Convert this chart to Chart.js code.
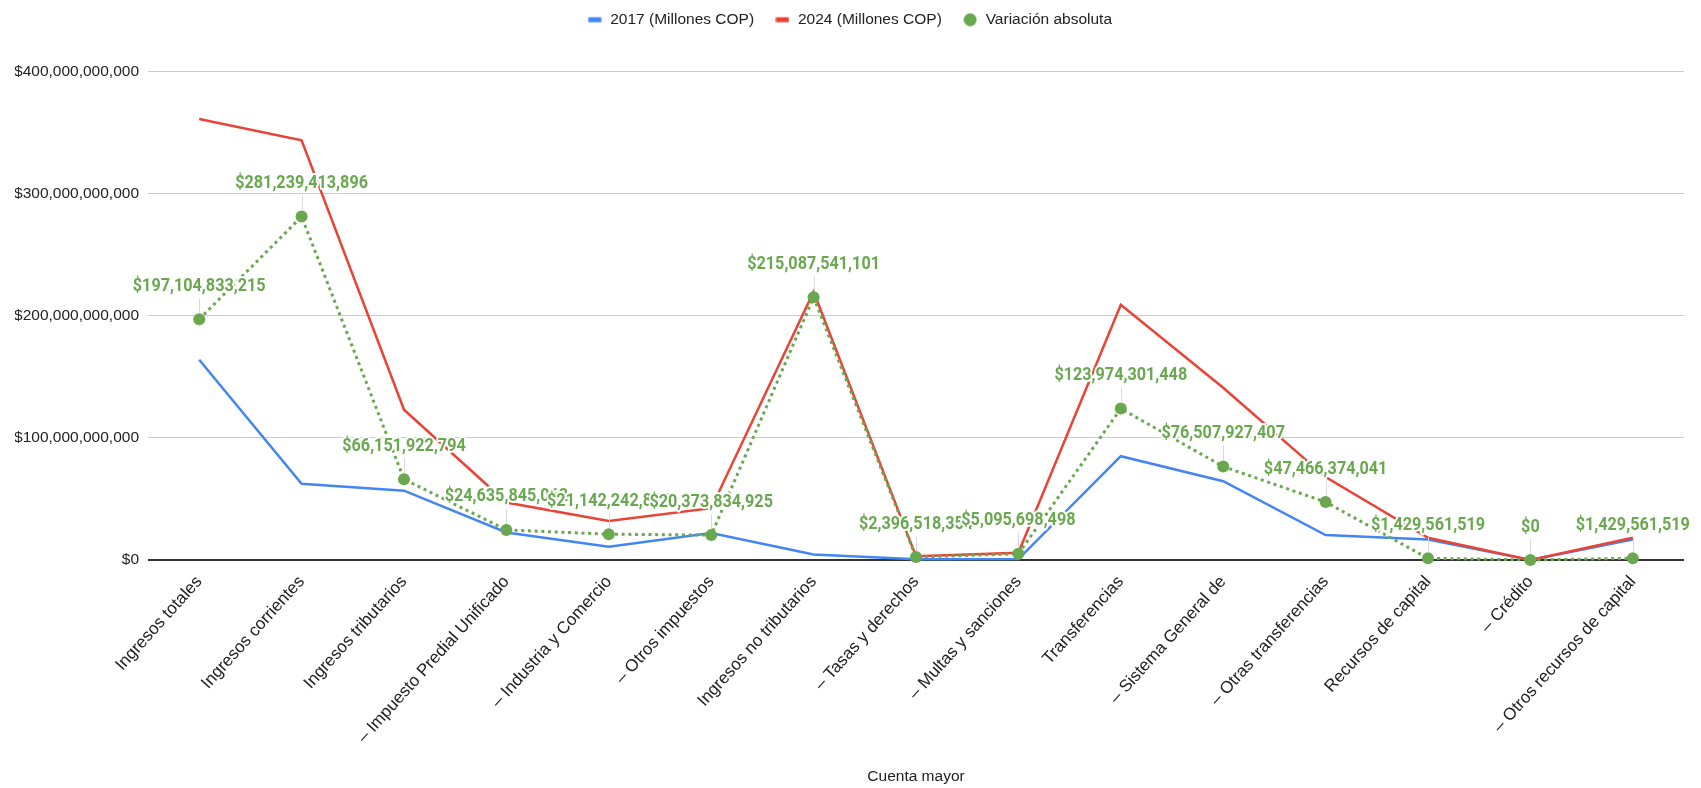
<!DOCTYPE html>
<html>
<head>
<meta charset="utf-8">
<title>Cuenta mayor</title>
<script src="https://cdn.jsdelivr.net/npm/chart.js@4.4.1/dist/chart.umd.min.js"></script>
<style>
  html, body { margin: 0; padding: 0; background: #fff; }
  #wrap { width: 1701px; height: 788px; }
</style>
</head>
<body>
<div id="wrap"><canvas id="myLineChart"></canvas></div>
<script>
// Categories (x axis)
var cuentas = ['Ingresos totales', 'Ingresos corrientes', 'Ingresos tributarios', '– Impuesto Predial Unificado',
    '– Industria y Comercio', '– Otros impuestos', 'Ingresos no tributarios', '– Tasas y derechos',
    '– Multas y sanciones', 'Transferencias', '– Sistema General de', '– Otras transferencias',
    'Recursos de capital', '– Crédito', '– Otros recursos de capital'];

// Series values in pesos
var valores2017 = [164.0e9, 62.5e9, 56.8e9, 22.5e9, 10.9e9, 22.0e9, 4.6e9, 0.6e9, 0.8e9,
    85.0e9, 64.5e9, 20.4e9, 16.8e9, 0, 16.8e9];
var valores2024 = [361.1e9, 343.7e9, 123.0e9, 47.1e9, 32.0e9, 42.4e9, 219.7e9, 3.0e9, 5.9e9,
    209.0e9, 141.0e9, 67.9e9, 18.2e9, 0, 18.2e9];
var variacion = [197104833215, 281239413896, 66151922794, 24635845062, 21142242816, 20373834925,
    215087541101, 2396518354, 5095698498, 123974301448, 76507927407, 47466374041,
    1429561519, 0, 1429561519];

// Y axis ticks
var yTicks = [0, 100e9, 200e9, 300e9, 400e9];

var azul = '#4285f4', rojo = '#ea4335', verde = '#6aa84f';

function dinero(v) {
    return '$' + Number(v).toLocaleString('en-US');
}

// little pictures for the legend
function icono(color, redondo) {
    var c = document.createElement('canvas');
    c.width = 14; c.height = 14;
    var g = c.getContext('2d');
    g.fillStyle = color;
    if (redondo) {
        g.beginPath(); g.arc(7, 7, 6.5, 0, 2 * Math.PI); g.fill();
    } else {
        g.fillRect(0.5, 4.5, 13, 5);
    }
    return c;
}
var iconos = [icono(azul, false), icono(rojo, false), icono(verde, true)];

Chart.defaults.font.family = "'Liberation Sans', Arial, sans-serif";
Chart.defaults.color = '#222';

// extra space under the legend
var legendMargin = {
    id: 'legendMargin',
    beforeInit: function (chart) {
        var fit = chart.legend.fit;
        chart.legend.fit = function () {
            fit.bind(chart.legend)();
            this.height += 34;
        };
    }
};

// value labels above the green points
var etiquetas = {
    id: 'etiquetas',
    afterDatasetsDraw: function (chart) {
        var ctx = chart.ctx;
        var meta = chart.getDatasetMeta(2);
        ctx.save();
        meta.data.forEach(function (pt, i) {
            var x = pt.x, y = pt.y;
            ctx.strokeStyle = '#d9d9d9';
            ctx.lineWidth = 1;
            ctx.beginPath();
            ctx.moveTo(Math.round(x) + 0.5, y - 21);
            ctx.lineTo(Math.round(x) + 0.5, y - 6);
            ctx.stroke();

            var txt = dinero(variacion[i]);
            ctx.save();
            ctx.translate(x, y - 33);
            ctx.scale(0.9, 1);
            ctx.font = 'bold 18px Roboto, sans-serif';
            ctx.textAlign = 'center';
            ctx.textBaseline = 'middle';
            ctx.lineJoin = 'round';
            ctx.strokeStyle = '#fff';
            ctx.lineWidth = 4;
            ctx.strokeText(txt, 0, 0);
            ctx.fillStyle = verde;
            ctx.fillText(txt, 0, 0);
            ctx.restore();
        });
        ctx.restore();
    }
};

var data = {
    labels: cuentas,
    datasets: [{
        label: '2017 (Millones COP)',
        data: valores2017,
        borderColor: azul,
        backgroundColor: azul,
        borderWidth: 2.5,
        pointRadius: 0,
        order: 3,
        clip: false
    }, {
        label: '2024 (Millones COP)',
        data: valores2024,
        borderColor: rojo,
        backgroundColor: rojo,
        borderWidth: 2.5,
        pointRadius: 0,
        order: 2,
        clip: false
    }, {
        label: 'Variación absoluta',
        data: variacion,
        borderColor: verde,
        backgroundColor: verde,
        borderWidth: 3,
        borderDash: [3, 3.7],
        pointRadius: 6,
        pointBorderWidth: 0,
        pointBackgroundColor: verde,
        order: 1,
        clip: false
    }]
};

var options = {
    responsive: true,
    maintainAspectRatio: false,
    animation: false,
    devicePixelRatio: 1,
    layout: { padding: { left: 15, right: 17, top: 0, bottom: 0 } },
    plugins: {
        tooltip: { enabled: false },
        legend: {
            position: 'top',
            labels: {
                usePointStyle: true,
                boxWidth: 16,
                boxHeight: 16,
                padding: 12,
                font: { size: 15.5 },
                color: '#222',
                generateLabels: function (chart) {
                    return chart.data.datasets.map(function (ds, i) {
                        return {
                            text: ds.label + (i < 2 ? '  ' : ''),
                            pointStyle: iconos[i],
                            fillStyle: ds.borderColor,
                            strokeStyle: 'rgba(0,0,0,0)',
                            lineWidth: 0,
                            hidden: false,
                            datasetIndex: i,
                            fontColor: '#222'
                        };
                    });
                }
            }
        }
    },
    scales: {
        x: {
            offset: true,
            grid: { display: false, drawTicks: false },
            border: { display: false },
            afterFit: function (s) { s.height = 228; },
            ticks: {
                autoSkip: false,
                maxRotation: 48,
                minRotation: 48,
                padding: 12,
                color: '#222',
                font: { size: 17 }
            },
            title: {
                display: true,
                text: 'Cuenta mayor',
                color: '#222',
                font: { size: 15.5 },
                padding: { top: 4, bottom: 2 }
            }
        },
        y: {
            min: 0,
            max: 400e9,
            afterBuildTicks: function (s) {
                s.ticks = yTicks.map(function (v) { return { value: v }; });
            },
            afterFit: function (s) { s.width = 133; },
            border: { display: false },
            grid: {
                drawTicks: false,
                color: function (c) { return c.tick.value === 0 ? '#333' : '#ccc'; },
                lineWidth: function (c) { return c.tick.value === 0 ? 2 : 1; }
            },
            ticks: {
                padding: 9,
                color: '#222',
                font: { size: 15.5 },
                callback: function (v) { return dinero(v); }
            }
        }
    }
};

var ctx = document.getElementById('myLineChart').getContext('2d');

var myLineChart = new Chart(ctx, {
    type: 'line',
    data: data,
    options: options,
    plugins: [legendMargin, etiquetas]
});
</script>
</body>
</html>
